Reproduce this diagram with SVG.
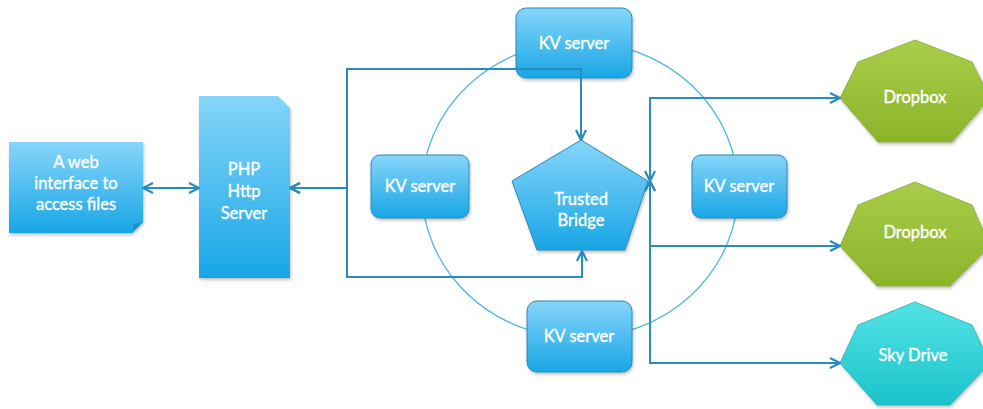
<svg xmlns="http://www.w3.org/2000/svg" width="983" height="409" viewBox="0 0 983 409">
<defs>
<linearGradient id="gBlue" x1="0" y1="0" x2="0" y2="1">
<stop offset="0" stop-color="#86d5fa"/>
<stop offset="1" stop-color="#18a6e6"/>
</linearGradient>
<linearGradient id="gGreen" x1="0" y1="0" x2="0" y2="1">
<stop offset="0" stop-color="#a9cd49"/>
<stop offset="1" stop-color="#8cb42a"/>
</linearGradient>
<linearGradient id="gCyan" x1="0" y1="0" x2="0" y2="1">
<stop offset="0" stop-color="#52e3e6"/>
<stop offset="1" stop-color="#1cc3cb"/>
</linearGradient>
<filter id="sh" x="-10%" y="-10%" width="130%" height="130%">
<feDropShadow dx="1" dy="2" stdDeviation="1.5" flood-color="#000" flood-opacity="0.25"/>
</filter>
<marker id="arr" viewBox="0 0 12 12" refX="11" refY="6" markerWidth="12" markerHeight="12" markerUnits="userSpaceOnUse" orient="auto-start-reverse">
<path d="M1,1 L11,6 L1,11" fill="none" stroke="#2a8bbd" stroke-width="2.2" stroke-linejoin="miter"/>
</marker>
</defs>
<style>
.node{filter:url(#sh)}
.blue{fill:url(#gBlue);stroke:#2e88b6;stroke-width:1}
.green{fill:url(#gGreen);stroke:#86a83a;stroke-width:0.8}
.cyan{fill:url(#gCyan);stroke:#2aaab0;stroke-width:0.8}
.lbl{font-family:Lato,"Open Sans",sans-serif;font-size:16.5px;fill:#ffffff;stroke:#ffffff;stroke-width:0.35;text-anchor:middle}
.conn{fill:none;stroke:#2a8bbd;stroke-width:2}
.ring{fill:none;stroke:#4db6e2;stroke-width:1.3}
</style>

<ellipse class="ring" cx="580" cy="190" rx="158" ry="148"/>

<g id="web">
<path class="node blue" style="stroke:none" d="M9,142 H143 V222 L132,233 H9 Z"/>
<path d="M143,222 L132,233 L134,224 Z" fill="#1a8fc6"/>
<text class="lbl" x="76" y="168">A web</text>
<text class="lbl" x="76" y="189">interface to</text>
<text class="lbl" x="76" y="210">access files</text>
</g>

<g id="php">
<path class="node blue" style="stroke:none" d="M199,96 H278 L290,108 V278 H199 Z"/>
<text class="lbl" x="244" y="175">PHP</text>
<text class="lbl" x="244" y="197">Http</text>
<text class="lbl" x="244" y="219">Server</text>
</g>

<g id="kv-top">
<rect class="node blue" x="516" y="8" width="116" height="70" rx="10"/>
<text class="lbl" x="574" y="49">KV server</text>
</g>

<g id="kv-left">
<rect class="node blue" x="371" y="155" width="98" height="63" rx="9"/>
<text class="lbl" x="420" y="192">KV server</text>
</g>

<g id="kv-right">
<rect class="node blue" x="692" y="155" width="95" height="63" rx="9"/>
<text class="lbl" x="739" y="192">KV server</text>
</g>

<g id="kv-bottom">
<rect class="node blue" x="527" y="301" width="105" height="71" rx="10"/>
<text class="lbl" x="579" y="342">KV server</text>
</g>

<g id="bridge">
<polygon class="node blue" points="581,140 648,181 625,250 537,250 512,181"/>
<text class="lbl" x="581" y="205">Trusted</text>
<text class="lbl" x="581" y="226">Bridge</text>
</g>

<g id="dropbox1">
<polygon class="node green" points="915,40 972,62 990,98 952,142 878,142 840,98 858,62"/>
<text class="lbl" x="915" y="103">Dropbox</text>
</g>

<g id="dropbox2">
<polygon class="node green" points="915,182 972,205 990,246 950,286 877,286 840,246 858,205"/>
<text class="lbl" x="915" y="238">Dropbox</text>
</g>

<g id="skydrive">
<polygon class="node cyan" points="915,302 972,325 990,363 950,405 877,405 840,363 858,325"/>
<text class="lbl" x="913" y="361">Sky Drive</text>
</g>

<g id="connectors">
<path class="conn" d="M143,188 H199" marker-start="url(#arr)" marker-end="url(#arr)"/>
<path class="conn" d="M290,188 H347 V69 H581 V140" marker-start="url(#arr)" marker-end="url(#arr)"/>
<path class="conn" d="M290,188 H347 V277 H582 V251" marker-start="url(#arr)" marker-end="url(#arr)"/>
<path class="conn" d="M840,98 H650 V181" marker-start="url(#arr)" marker-end="url(#arr)"/>
<path class="conn" d="M840,246 H650 V181" marker-start="url(#arr)" marker-end="url(#arr)"/>
<path class="conn" d="M840,363 H650 V181" marker-start="url(#arr)" marker-end="url(#arr)"/>
</g>
</svg>
